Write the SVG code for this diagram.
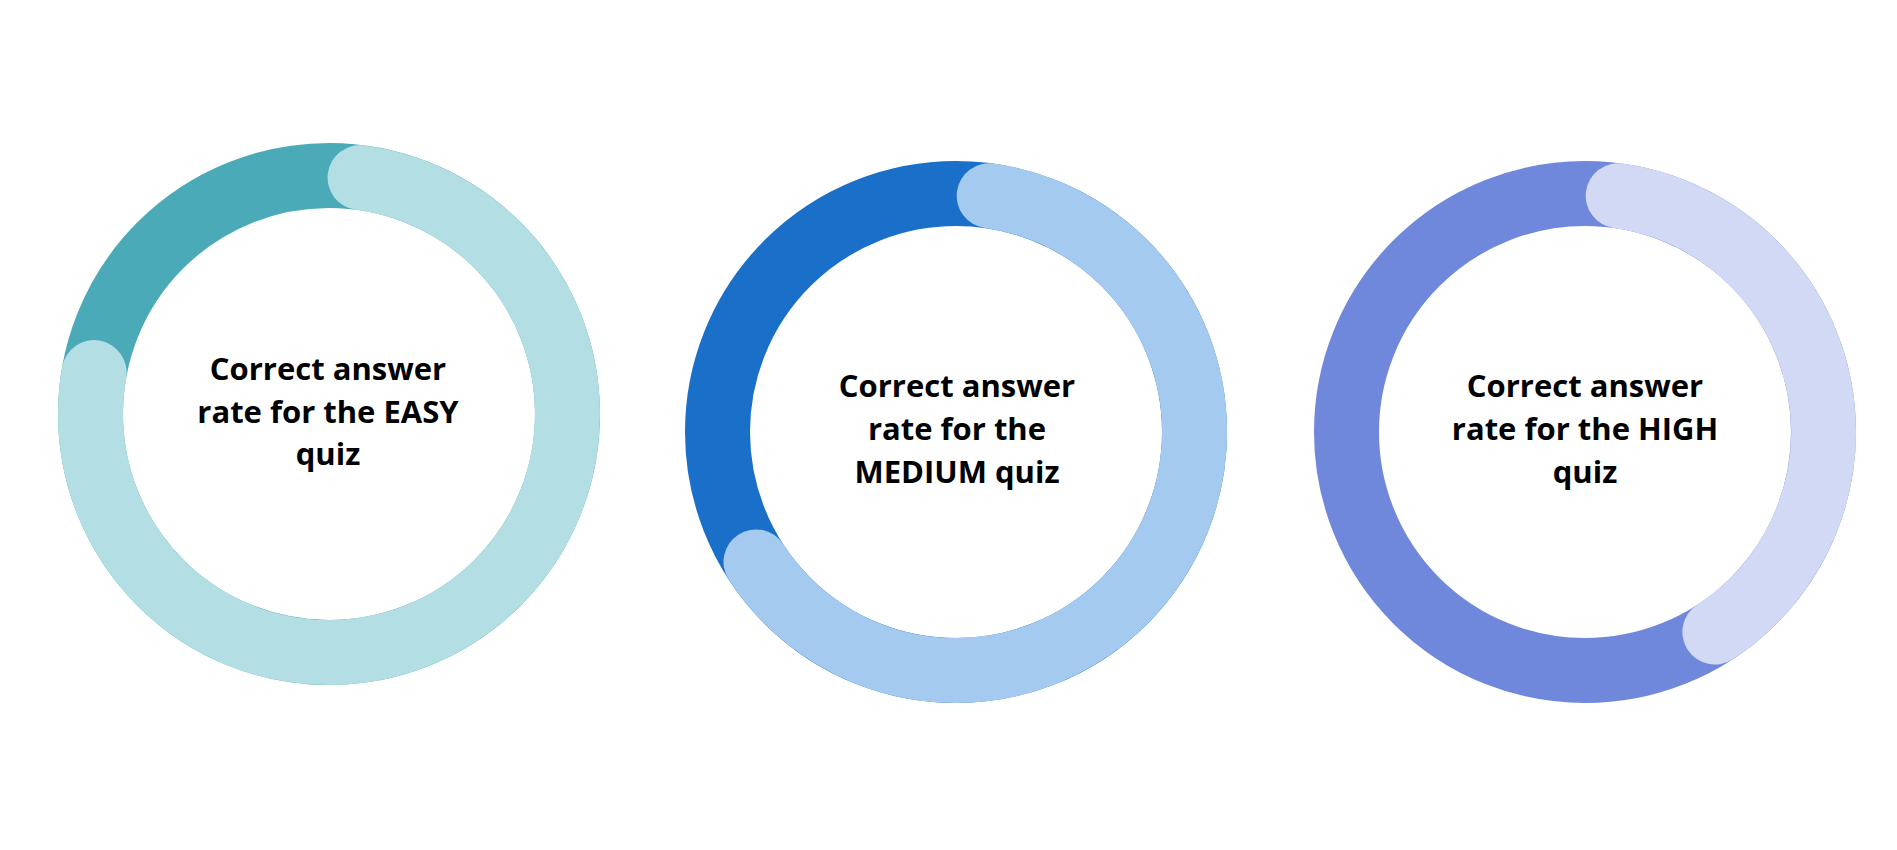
<svg xmlns="http://www.w3.org/2000/svg" width="1897" height="850" viewBox="0 0 1897 850">
<style>
.ring{fill:none;stroke-width:65}
.arc{fill:none;stroke-width:65;stroke-linecap:round}
.lbl{font-family:"Open Sans","Noto Sans","Liberation Sans",sans-serif;font-weight:700;font-size:31px;fill:#000;text-anchor:middle}
</style>
<rect width="1897" height="850" fill="#ffffff"/>
<g id="easy">
<circle class="ring" cx="329" cy="414" r="238.5" stroke="#4AAAB8"/>
<path class="arc" stroke="#B3DEE4" d="M360.1,177.6 A238.5,238.5 0 1 1 94.1,372.6"/>
<text class="lbl" x="328" y="380">Correct answer</text>
<text class="lbl" x="328" y="423">rate for the EASY</text>
<text class="lbl" x="328" y="465">quiz</text>
</g>
<g id="medium">
<circle class="ring" cx="956" cy="432" r="238.5" stroke="#1A70C8"/>
<path class="arc" stroke="#A4CAF0" d="M989.2,195.8 A238.5,238.5 0 1 1 756.0,561.9"/>
<text class="lbl" x="957" y="397">Correct answer</text>
<text class="lbl" x="957" y="440">rate for the</text>
<text class="lbl" x="957" y="483">MEDIUM quiz</text>
</g>
<g id="high">
<circle class="ring" cx="1585" cy="432" r="238.5" stroke="#7088DC"/>
<path class="arc" stroke="#D1D9F4" d="M1618.2,195.8 A238.5,238.5 0 0 1 1714.9,632.0"/>
<text class="lbl" x="1585" y="397">Correct answer</text>
<text class="lbl" x="1585" y="440">rate for the HIGH</text>
<text class="lbl" x="1585" y="483">quiz</text>
</g>
<g id="connectors"></g>
</svg>
